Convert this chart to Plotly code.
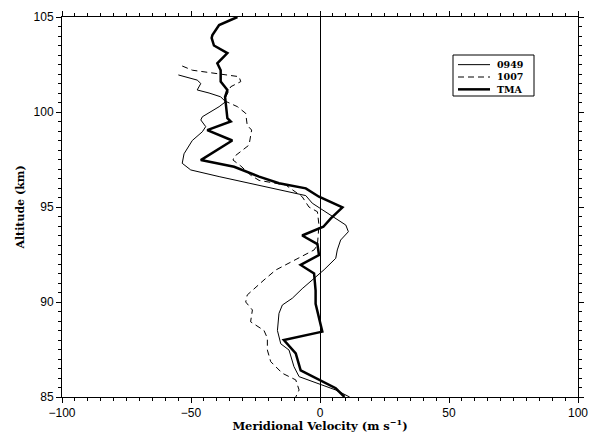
import plotly.graph_objects as go

# 0949 (thin solid)
alt_0949 = [101.95, 101.68, 101.5, 101.16, 101.0, 100.8, 100.54, 100.28, 99.75, 99.58,
            99.23, 98.96, 98.5, 97.8, 97.3, 96.95, 96.6, 96.07, 95.6, 95.2,
            94.67, 94.05, 93.7, 93.26, 92.74, 92.3, 91.7, 91.16, 90.7, 90.2,
            89.84, 89.4, 88.5, 87.8, 87.47, 86.6, 86.07, 85.37, 85.0]
vel_0949 = [-54.9, -47.6, -46.2, -47.6, -43.0, -38.5, -36.6, -39.1, -45.6, -46.2,
            -44.3, -45.6, -49.5, -52.7, -53.4, -50.1, -39.1, -21.0, -5.5, -3.0,
            2.8, 10.0, 11.0, 8.0, 6.7, 6.1, 1.6, -3.0, -6.9, -10.7,
            -14.6, -15.9, -16.5, -15.2, -12.0, -10.1, -8.1, 6.1, 11.5]

# 1007 (dashed)
alt_1007 = [102.42, 102.2, 101.86, 101.6, 101.33, 100.6, 100.28, 99.93, 99.3, 99.05,
            98.26, 97.9, 97.65, 97.47, 97.16, 96.68, 96.4, 96.16, 95.54, 95.0,
            94.75, 94.05, 93.0, 92.74, 92.4, 92.03, 91.68, 91.16, 90.37, 90.0,
            89.58, 88.96, 88.5, 88.1, 87.47, 86.86, 86.25, 85.9, 85.37, 85.0]
vel_1007 = [-53.4, -49.5, -31.4, -30.7, -34.6, -37.2, -32.0, -28.8, -28.2, -26.5,
            -27.5, -30.7, -33.3, -33.7, -30.7, -26.9, -23.6, -13.3, -6.9, -4.3,
            -1.0, -0.4, -1.0, -2.3, -6.9, -12.0, -17.2, -21.7, -28.2, -28.8,
            -26.2, -26.9, -21.7, -20.4, -20.4, -19.1, -14.6, -9.4, -8.1, -9.4]

# TMA (thick)
alt_tma = [105.0, 104.58, 104.05, 103.9, 103.5, 103.1, 102.56, 102.2, 101.6, 101.16,
           100.8, 100.1, 99.67, 99.5, 99.05, 98.5, 97.47, 97.12, 96.6, 96.25,
           95.98, 95.54, 94.98, 94.4, 93.96, 93.5, 93.05, 92.47, 91.95, 91.5,
           90.6, 89.9, 89.2, 88.44, 88.0, 87.3, 86.4, 85.46, 85.0]
vel_tma = [-32.0, -39.1, -41.7, -42.0, -41.1, -35.9, -39.8, -38.5, -38.5, -35.9,
           -36.8, -36.3, -35.9, -34.6, -43.7, -34.0, -46.2, -33.3, -23.6, -15.9,
           -5.5, -0.4, 8.7, 4.2, 1.3, -6.9, -1.0, -0.4, -7.5, -2.3,
           -1.7, -1.7, -0.4, 0.9, -14.0, -9.4, -7.5, 6.1, 9.5]

series_names = ["0949", "1007", "TMA"]
x_ticks = [-100, -50, 0, 50, 100]
y_ticks = [85, 90, 95, 100, 105]

styles = [dict(color="black", width=1),
          dict(color="black", width=1, dash="6px,4px"),
          dict(color="black", width=2.5)]
data = [(vel_0949, alt_0949), (vel_1007, alt_1007), (vel_tma, alt_tma)]

fig = go.Figure()
for name, (xs, ys), st in zip(series_names, data, styles):
    fig.add_trace(go.Scatter(x=xs, y=ys, mode="lines", name=name,
                             line=st, showlegend=False))

serif = "DejaVu Serif"
sans = "Liberation Sans, Arial, sans-serif"

# page body has an 8px margin, so the figure is sized to fit the window
W, H = 591, 425
ML, MR, MT, MB = 54, 21, 9, 36
PW, PH = W - ML - MR, H - MT - MB


def px(sx):  # screen x -> paper x
    return (sx - 8 - ML) / PW


def py(sy):  # screen y -> paper y
    return 1 - (sy - 8 - MT) / PH


# custom compact legend: one multi-line text block beside three line samples
leg_font = 9.5
leg_mid = 77.0
leg_step = 1.3 * leg_font
fig.add_shape(type="rect", xref="paper", yref="paper",
              x0=px(453), x1=px(534), y0=py(96), y1=py(55),
              line=dict(color="black", width=1), fillcolor="white", layer="above")
for i, st in enumerate(styles):
    ry = leg_mid + (i - 1) * leg_step
    fig.add_shape(type="line", xref="paper", yref="paper",
                  x0=px(458), x1=px(490), y0=py(ry), y1=py(ry),
                  line=st, layer="above")
fig.add_annotation(x=px(496), y=py(leg_mid), xref="paper", yref="paper",
                   text="<br>".join(series_names), showarrow=False,
                   xanchor="left", yanchor="middle", align="left", borderpad=0,
                   font=dict(family=serif, size=leg_font, color="black", weight="bold"))

axis_common = dict(
    showline=True, linecolor="black", linewidth=1, mirror="ticks",
    ticks="outside", ticklen=5, tickwidth=1, tickcolor="black",
    showgrid=False, automargin=False,
    tickfont=dict(family=sans, size=12, color="black"),
)

fig.update_layout(
    template="none",
    width=W, height=H,
    margin=dict(l=ML, r=MR, t=MT, b=MB, pad=0),
    paper_bgcolor="white", plot_bgcolor="white",
    showlegend=False,
    xaxis=dict(range=[-100, 100], tickvals=x_ticks,
               zeroline=True, zerolinecolor="black", zerolinewidth=1,
               minor=dict(dtick=5, ticks="outside", ticklen=3, tickcolor="black", tickwidth=1),
               title=dict(text="Meridional Velocity (m s<sup>−1</sup>)",
                          font=dict(family=serif, size=11.5, color="black", weight="bold"),
                          standoff=4),
               **axis_common),
    yaxis=dict(range=[85, 105], tickvals=y_ticks, zeroline=False,
               minor=dict(dtick=0.5, ticks="outside", ticklen=3, tickcolor="black", tickwidth=1),
               title=dict(text="Altitude (km)",
                          font=dict(family=serif, size=11, color="black", weight="bold"),
                          standoff=6),
               **axis_common),
)

fig.write_html("out.html")
